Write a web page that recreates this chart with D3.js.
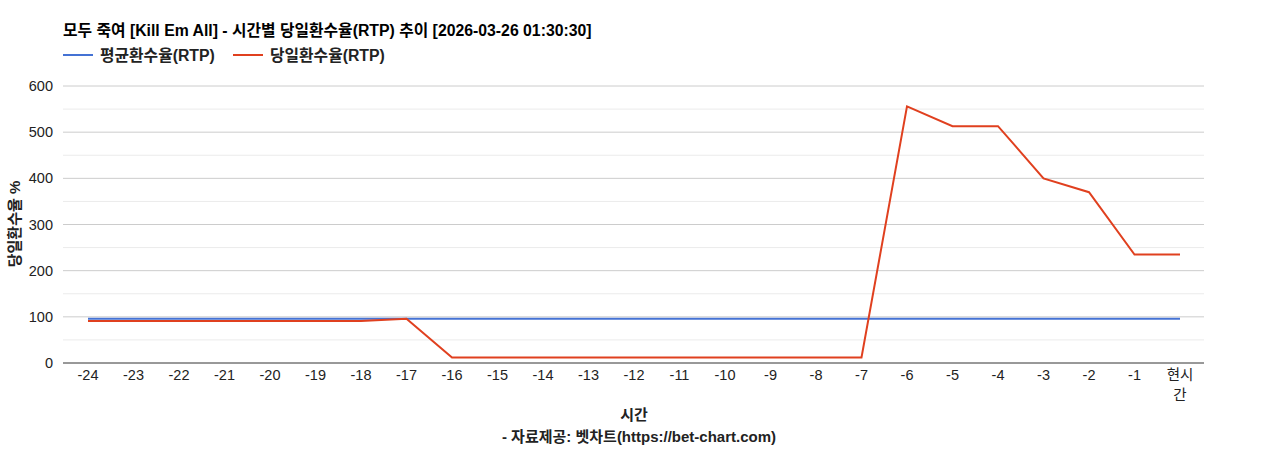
<!DOCTYPE html>
<html lang="ko">
<meta charset="UTF-8">
<title>시간별 당일환수율</title>
<script src="https://d3js.org/d3.v7.min.js"></script>
<style>
  body { margin: 0; background: #fff; }
  svg text { font-family: Arial, "Liberation Sans", "Noto Sans CJK KR", sans-serif; }
</style>
<body>
<svg width="1268" height="450"></svg>
<script>
// data
var hours = ["-24","-23","-22","-21","-20","-19","-18","-17","-16","-15","-14","-13","-12",
             "-11","-10","-9","-8","-7","-6","-5","-4","-3","-2","-1","현시간"];
var avgRtp = [96,96,96,96,96,96,96,96,96,96,96,96,96,96,96,96,96,96,96,96,96,96,96,96,96];
var dayRtp = [91,91,91,91,91,91,91,96,12,12,12,12,12,12,12,12,12,12,556,513,513,400,370,235,235];
var yTicks = [0,100,200,300,400,500,600];
var seriesNames = ["평균환수율(RTP)", "당일환수율(RTP)"];
var colors = ["#4472d4", "#e0401f"];

var svg = d3.select("svg");
var plotL = 63, plotR = 1204, plotT = 86, plotB = 363;

var x = d3.scalePoint().domain(hours).range([88, 1180]);
var y = d3.scaleLinear().domain([0, 600]).range([plotB, plotT]);

// gridlines: minor every 50, major every 100
var minor = d3.range(50, 600, 100);
svg.selectAll(".minor").data(minor).enter().append("line")
  .attr("x1", plotL).attr("x2", plotR)
  .attr("y1", d => y(d)).attr("y2", d => y(d))
  .attr("stroke", "#ebebeb").attr("stroke-width", 1);
svg.selectAll(".major").data(yTicks.slice(1)).enter().append("line")
  .attr("x1", plotL).attr("x2", plotR)
  .attr("y1", d => y(d)).attr("y2", d => y(d))
  .attr("stroke", "#cccccc").attr("stroke-width", 1);

// y labels
svg.selectAll(".ylab").data(yTicks).enter().append("text")
  .attr("x", 53).attr("y", d => y(d) + 5)
  .attr("text-anchor", "end")
  .style("font-size", "14.5px").style("fill", "#222")
  .text(d => d);

// lines
var line = d3.line().x((d, i) => x(hours[i])).y(d => y(d));
[avgRtp, dayRtp].forEach(function(s, k) {
  svg.append("path").datum(s)
    .attr("d", line)
    .attr("fill", "none")
    .attr("stroke", colors[k])
    .attr("stroke-width", 2);
});

// baseline
svg.append("line")
  .attr("x1", plotL).attr("x2", plotR)
  .attr("y1", y(0)).attr("y2", y(0))
  .attr("stroke", "#333").attr("stroke-width", 1);

// x labels (last one wraps)
hours.forEach(function(h) {
  var t = svg.append("text")
    .attr("x", x(h)).attr("y", 380)
    .attr("text-anchor", "middle")
    .style("font-size", "14.5px").style("fill", "#222");
  if (h === "현시간") {
    t.append("tspan").attr("x", x(h)).attr("y", 380).text("현시");
    t.append("tspan").attr("x", x(h)).attr("y", 400).text("간");
  } else {
    t.text(h);
  }
});

// title
svg.append("text")
  .attr("x", 63).attr("y", 36)
  .style("font-size", "15.8px").style("font-weight", "bold").style("fill", "#000")
  .text("모두 죽여 [Kill Em All] - 시간별 당일환수율(RTP) 추이 [2026-03-26 01:30:30]");

// legend
var legX = [63, 233];
seriesNames.forEach(function(n, k) {
  svg.append("line")
    .attr("x1", legX[k]).attr("x2", legX[k] + 30)
    .attr("y1", 55).attr("y2", 55)
    .attr("stroke", colors[k]).attr("stroke-width", 2);
  svg.append("text")
    .attr("x", legX[k] + 37).attr("y", 61)
    .style("font-size", "15.8px").style("font-weight", "bold").style("fill", "#222")
    .text(n);
});

// axis titles
svg.append("text")
  .attr("transform", "translate(20,224) rotate(-90)")
  .attr("text-anchor", "middle")
  .style("font-size", "15px").style("font-weight", "bold").style("fill", "#222")
  .text("당일환수율 %");
svg.append("text")
  .attr("x", 634).attr("y", 420)
  .attr("text-anchor", "middle")
  .style("font-size", "15px").style("font-weight", "bold").style("fill", "#222")
  .text("시간");
svg.append("text")
  .attr("x", 639).attr("y", 442)
  .attr("text-anchor", "middle")
  .style("font-size", "15px").style("font-weight", "bold").style("fill", "#222")
  .text("- 자료제공: 벳차트(https://bet-chart.com)");
</script>
</body>
</html>
